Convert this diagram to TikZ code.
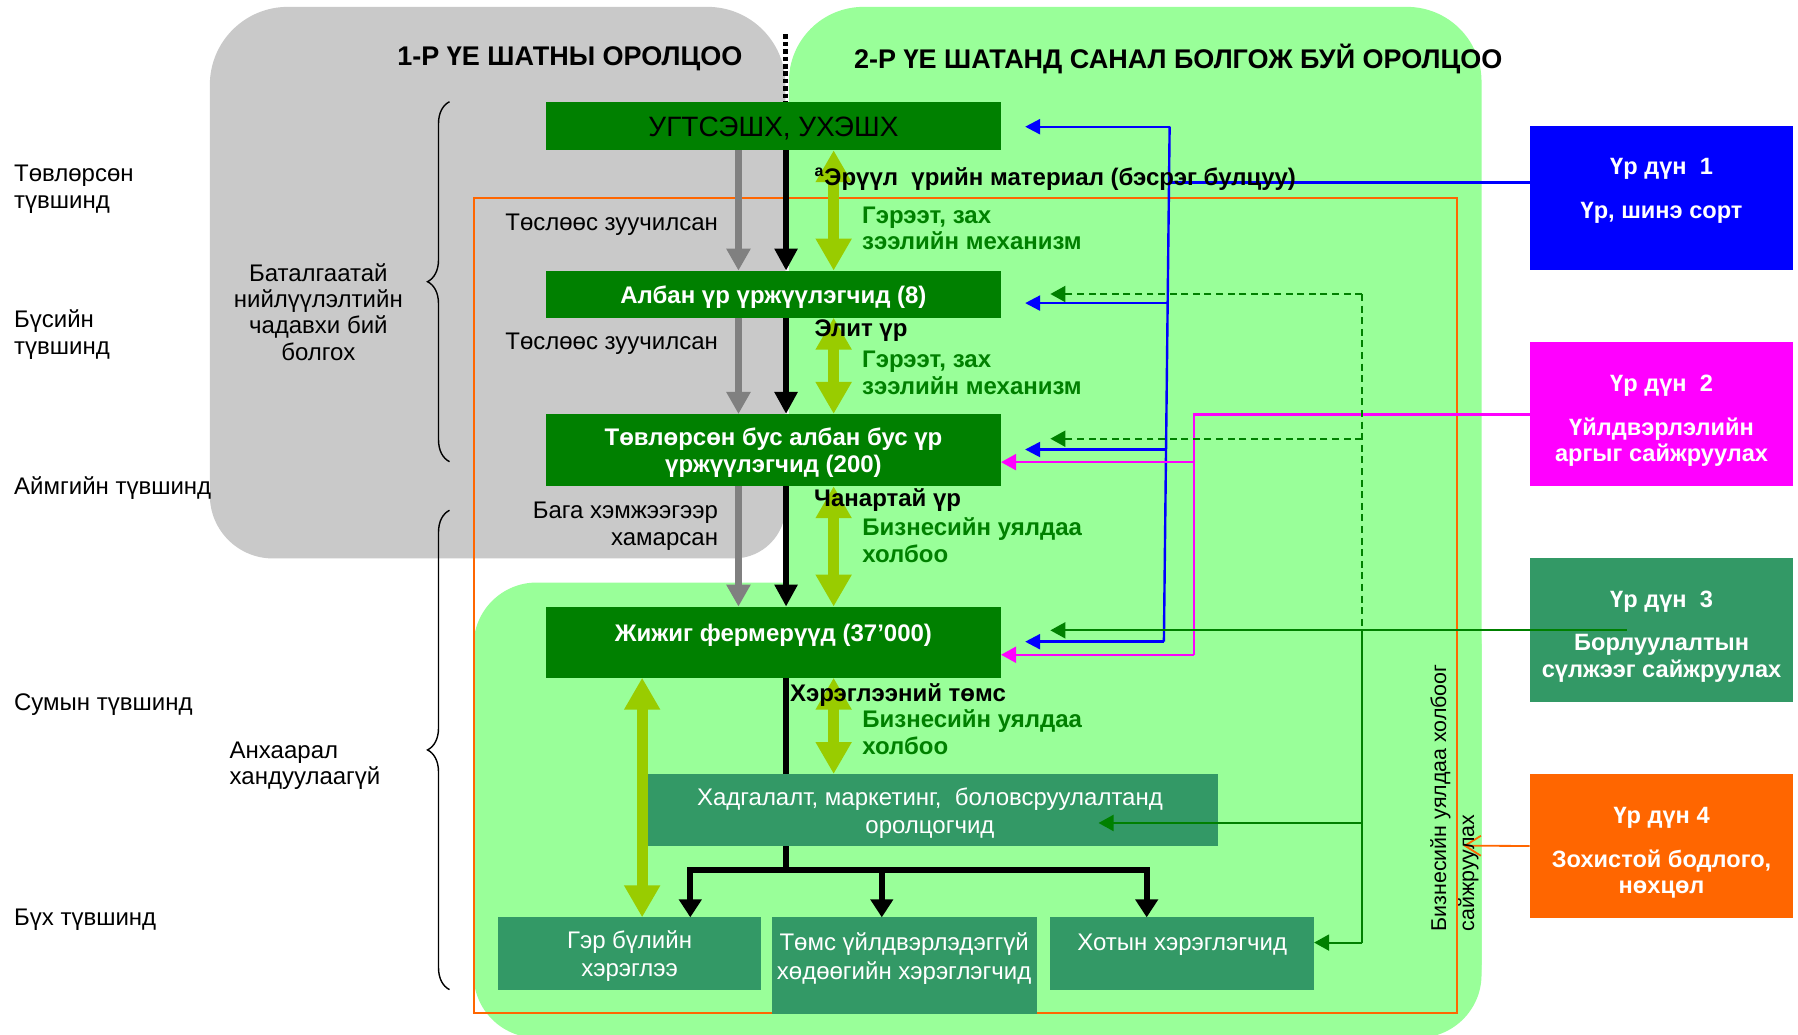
\documentclass[tikz,border=0pt]{standalone}
\usepackage{fontspec}
\setmainfont{Liberation Sans}
\usetikzlibrary{arrows.meta,decorations.pathreplacing}
\definecolor{dkgreen}{RGB}{0,128,0}
\definecolor{mdgreen}{RGB}{51,153,102}
\definecolor{ltgreen}{RGB}{153,255,153}
\definecolor{regiongray}{RGB}{201,201,201}
\definecolor{yellowgreen}{RGB}{153,204,0}
\definecolor{arrgray}{RGB}{128,128,128}
\definecolor{orng}{RGB}{255,102,0}
\definecolor{mgnta}{RGB}{255,0,255}
\definecolor{blu}{RGB}{0,0,255}
\newcommand{\myfs}[2]{\fontsize{#1}{#2}\selectfont}
\def\upx{0.5734pt}
\begin{document}
\begin{tikzpicture}[x=0.5734pt,y=-0.5734pt,
  box/.style={anchor=north west, inner sep=0pt, outer sep=0pt},
  dkbox/.style={box, fill=dkgreen},
  mdbox/.style={box, fill=mdgreen},
  resbox/.style={box, minimum width=230*\upx, minimum height=125.5*\upx},
  txt/.style={inner sep=0pt, yshift=-1.4pt},
  wbold/.style={txt, text=white, align=center, font=\bfseries\myfs{12}{13.8}},
  wreg/.style={txt, text=white, align=center, font=\myfs{12}{14.3}},
  restxt/.style={txt, text=white, align=center, font=\bfseries\myfs{11.8}{13.4}},
  title/.style={txt, font=\bfseries\myfs{13.5}{16}},
  lbl/.style={txt, font=\myfs{12}{13.5}},
  blbl/.style={txt, anchor=west, font=\bfseries\myfs{12}{13.5}},
  glbl/.style={inner sep=0pt, anchor=west, align=left, text=dkgreen, font=\bfseries\myfs{12}{13.4}},
  grayarr/.style={draw=arrgray, line width=3.3pt, -{Triangle[width=11.5pt,length=11pt]}},
  blkarr/.style={draw=black, line width=3.1pt, -{Triangle[width=11pt,length=11pt]}},
  blkline/.style={draw=black, line width=3.1pt},
  ygarr/.style={draw=yellowgreen, line width=5.5pt, {Triangle[width=17pt,length=16pt]}-{Triangle[width=17pt,length=16pt]}},
  lowarr/.style={draw=black, line width=3pt, -{Triangle[width=11pt,length=9pt]}},
  bline/.style={draw=blu, line width=1.2pt},
  barr/.style={bline, -{Triangle[width=7.5pt,length=7.5pt]}},
  mline/.style={draw=mgnta, line width=1.1pt},
  marr/.style={mline, -{Triangle[width=8pt,length=7.5pt]}},
  gline/.style={draw=dkgreen, line width=1pt},
  garr/.style={gline, -{Triangle[width=8pt,length=7.5pt]}},
  gdash/.style={gline, dash pattern=on 3.5pt off 2.3pt},
  gdarr/.style={gdash, -{Triangle[width=8pt,length=7.5pt]}},
  oarr/.style={draw=orng, line width=0.9pt, -{Straight Barb[width=10pt,length=8pt]}},
  bracestyle/.style={draw=black, line width=0.7pt, decorate, decoration={brace, amplitude=11pt, aspect=0.5}},
  dotline/.style={draw=black, line width=2.3pt, dash pattern=on 2.3pt off 1.4pt}
]
\useasboundingbox (0,0) rectangle (1568,902);
\fill[white] (0,0) rectangle (1568,902);

% background regions
\fill[ltgreen, rounded corners=65*\upx] (688,6) rectangle (1292,905);
\fill[ltgreen, rounded corners=55*\upx] (413,508) rectangle (1292,905);
\fill[regiongray] (183,250) [rounded corners=68*\upx] -- (183,6) -- (685,6) -- (685,300)
   [rounded corners=45*\upx] -- (685,487) [rounded corners=55*\upx] -- (183,487) -- cycle;

% orange frame
\draw[orng, line width=1pt] (413,173) rectangle (1271,883);

% main chain boxes
\node[dkbox, minimum width=397*\upx, minimum height=42*\upx] (b1) at (476,89) {};
\node[dkbox, minimum width=397*\upx, minimum height=41*\upx] (b2) at (476,236) {};
\node[dkbox, minimum width=397*\upx, minimum height=63*\upx] (b3) at (476,361) {};
\node[dkbox, minimum width=397*\upx, minimum height=62*\upx] (b4) at (476,529) {};
\node[mdbox, minimum width=502*\upx, minimum height=63*\upx] (b5) at (560,675) {};
\node[mdbox, minimum width=230*\upx, minimum height=63*\upx] (b6) at (434,800) {};
\node[mdbox, minimum width=231*\upx, minimum height=84*\upx] (b7) at (673,800) {};
\node[mdbox, minimum width=230*\upx, minimum height=63*\upx] (b8) at (916,800) {};

% result boxes
\node[resbox, fill=blu] (r1) at (1334,110) {};
\node[resbox, fill=mgnta] (r2) at (1334,298) {};
\node[resbox, fill=mdgreen] (r3) at (1334,487) {};
\node[resbox, fill=orng] (r4) at (1334,675) {};

% dotted divider
\coordinate (dtop) at (685,30);
\draw[dotline] (dtop) -- (b1.north -| dtop);

% vertical flow arrows
\coordinate (gx) at (644,0);
\coordinate (kx) at (685.5,0);
\coordinate (yx) at (727,0);
\coordinate (ylx) at (560,0);
\draw[grayarr] (b1.south -| gx) -- (b2.north -| gx);
\draw[grayarr] (b2.south -| gx) -- (b3.north -| gx);
\draw[grayarr] (b3.south -| gx) -- (b4.north -| gx);
\draw[blkarr] (b1.south -| kx) -- (b2.north -| kx);
\draw[blkarr] (b2.south -| kx) -- (b3.north -| kx);
\draw[blkarr] (b3.south -| kx) -- (b4.north -| kx);
\draw[blkline] (b4.south -| kx) -- (b5.north -| kx);
\coordinate (barL) at (602,759);
\coordinate (barM) at (769,759);
\coordinate (barR) at (1000,759);
\draw[blkline] (b5.south -| kx) -- (kx |- barL);
\draw[blkline, line join=miter, {Triangle[width=11pt,length=9pt]}-{Triangle[width=11pt,length=9pt]}]
   (barL |- b6.north) -- (barL) -- (barR) -- (barR |- b8.north);
\draw[lowarr] (barM) -- (barM |- b7.north);
\draw[ygarr] (b1.south -| yx) -- (b2.north -| yx);
\draw[ygarr] (b2.south -| yx) -- (b3.north -| yx);
\draw[ygarr] (b3.south -| yx) -- (b4.north -| yx);
\draw[ygarr] (b4.south -| yx) -- (b5.north -| yx);
\draw[ygarr] (b4.south -| ylx) -- (b6.north -| ylx);

% blue connectors (result 1)
\coordinate (B0) at (1020,159.3);
\coordinate (B1) at (1020,110.5);
\coordinate (B2) at (1018.3,264.3);
\coordinate (B3) at (1016.9,392);
\coordinate (B4) at (1015,559.6);
\coordinate (BT) at (894,0);
\draw[bline] (r1.west |- B0) -- (B0);
\draw[bline] (B1) -- (B4);
\draw[barr] (B1) -- (B1 -| BT);
\draw[barr] (B2) -- (B2 -| BT);
\draw[barr] (B3) -- (B3 -| BT);
\draw[barr] (B4) -- (B4 -| BT);

% magenta connectors (result 2)
\coordinate (M0) at (1041,361.4);
\coordinate (M1) at (1041,403);
\coordinate (M2) at (1041,571);
\draw[mline] (r2.west |- M0) -- (M0) -- (M2);
\draw[marr] (M1) -- (b3.east |- M1);
\draw[marr] (M2) -- (b4.east |- M2);

% green connectors (result 3)
\coordinate (G0) at (1188,256.4);
\coordinate (G1) at (1188,382.6);
\coordinate (G2) at (1188,549.7);
\coordinate (G3) at (1188,717.7);
\coordinate (G4) at (1188,822);
\coordinate (GT) at (916,0);
\coordinate (G5) at (1418.6,549.7);
\coordinate (G6) at (958,717.7);
\draw[gdash] (G0) -- (G2);
\draw[gdarr] (G0) -- (G0 -| GT);
\draw[gdarr] (G1) -- (G1 -| GT);
\draw[gline] (G2) -- (G4);
\draw[garr] (G5) -- (G2 -| GT);
\draw[garr] (G3) -- (G6);
\draw[garr] (G4) -- (b8.east |- G4);

% orange connector (result 4)
\coordinate (O1) at (1276,737.5);
\draw[oarr] (r4.west) -- (O1);

% braces
\draw[bracestyle] (392,402.6) -- (392,88.7);
\draw[bracestyle] (392,863) -- (392,445);

% titles
\node[title] (t1) at (497,48.8) {1-Р ҮЕ ШАТНЫ ОРОЛЦОО};
\node[title] (t2) at (1027.5,48.8) {2-Р ҮЕ ШАТАНД САНАЛ БОЛГОЖ БУЙ ОРОЛЦОО};

% level labels
\node[lbl, anchor=west, align=left] (l1) at (12,162.7) {Төвлөрсөн\\түвшинд};
\node[lbl, anchor=west, align=left] (l2) at (12,289) {Бүсийн\\түвшинд};
\node[lbl, anchor=west] (l3) at (12,423) {Аймгийн түвшинд};
\node[lbl, anchor=west] (l4) at (12,612) {Сумын түвшинд};
\node[lbl, anchor=west] (l5) at (12,800) {Бүх түвшинд};
\node[lbl, align=center, font=\myfs{12}{13.1}] (bat) at (277.6,269.6) {Баталгаатай\\нийлүүлэлтийн\\чадавхи бий\\болгох};
\node[lbl, anchor=west, align=left, font=\myfs{12}{13.4}] (anh) at (200,665.4) {Анхаарал\\хандуулаагүй};

% flow labels
\node[lbl, anchor=east] (ts1) at (626.5,193.3) {Төслөөс зуучилсан};
\node[lbl, anchor=east] (ts2) at (626.5,297) {Төслөөс зуучилсан};
\node[lbl, anchor=east, align=right, font=\myfs{12}{13.4}] (bag) at (626.5,456.4) {Бага хэмжээгээр\\хамарсан};
\node[blbl] (er) at (710,153.5) {\textsuperscript{a}Эрүүл\ \ үрийн материал (бэсрэг булцуу)};
\node[glbl] (gz1) at (751.5,199.1) {Гэрээт, зах\\зээлийн механизм};
\node[blbl] (el) at (710,286.3) {Элит үр};
\node[glbl] (gz2) at (751.5,325) {Гэрээт, зах\\зээлийн механизм};
\node[blbl] (ch) at (709.7,433.7) {Чанартай үр};
\node[glbl] (bz1) at (751.7,470.9) {Бизнесийн уялдаа\\холбоо};
\node[blbl] (hr) at (688.6,604) {Хэрэглээний төмс};
\node[glbl] (bz2) at (751.7,638.4) {Бизнесийн уялдаа\\холбоо};

% box texts
\node[txt, text=black, font=\myfs{14}{16}] (b1t) at (b1.center) {УГТСЭШХ, УХЭШХ};
\node[wbold] (b2t) at (b2.center) {Албан үр үржүүлэгчид (8)};
\node[wbold] (b3t) at (b3.center) {Төвлөрсөн бус албан бус үр\\үржүүлэгчид (200)};
\node[wbold] (b4t) at (674.5,551.5) {Жижиг фермерүүд (37'000)};
\node[wreg, font=\myfs{12}{13.8}] (b5t) at (b5.center) {Хадгалалт, маркетинг,\ \ боловсруулалтанд\\оролцогчид};
\node[wreg] (b6t) at (b6.center) {Гэр бүлийн\\хэрэглээ};
\node[wreg] (b7t) at (788.5,833.5) {Төмс үйлдвэрлэдэггүй\\хөдөөгийн хэрэглэгчид};
\node[wreg] (b8t) at (1031,821) {Хотын хэрэглэгчид};

% result texts
\node[restxt] (r1a) at (1449,145) {Үр дүн~~1};
\node[restxt] (r1b) at (1449,183) {Үр, шинэ сорт};
\node[restxt] (r2a) at (1449,333.7) {Үр дүн~~2};
\node[restxt] (r2b) at (1449,383.2) {Үйлдвэрлэлийн\\аргыг сайжруулах};
\node[restxt] (r3a) at (1449,522.7) {Үр дүн~~3};
\node[restxt] (r3b) at (1449,571.7) {Борлуулалтын\\сүлжээг сайжруулах};
\node[restxt] (r4a) at (1449,710.7) {Үр дүн 4};
\node[restxt] (r4b) at (1449,759.8) {Зохистой бодлого,\\нөхцөл};

% vertical text
\node[rotate=90, anchor=west, align=left, inner sep=0pt, font=\myfs{10.7}{14}] (vt) at (1268.3,812.5) {Бизнесийн уялдаа холбоог\\сайжруулах};
\end{tikzpicture}
\end{document}
